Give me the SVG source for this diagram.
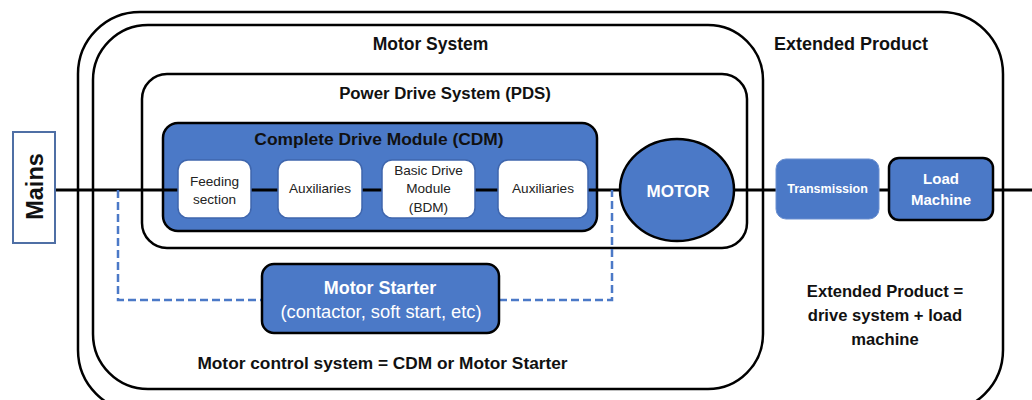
<svg xmlns="http://www.w3.org/2000/svg" width="1032" height="400" viewBox="0 0 1032 400">
<style>
.frame{fill:none;stroke:#000;stroke-width:2.5}
.t{font-family:"Liberation Sans",Arial,sans-serif;font-weight:bold;fill:#111;text-anchor:middle}
.w{font-family:"Liberation Sans",Arial,sans-serif;fill:#222;text-anchor:middle;font-size:13.6px}
.wt{font-family:"Liberation Sans",Arial,sans-serif;fill:#fff;text-anchor:middle}
.blue{fill:#4b79c7}
.inner{fill:#fff;stroke:#3f66ad;stroke-width:1.5}
</style>
<rect width="1032" height="400" fill="#fff"/>
<g id="extended-product">
<rect class="frame" x="78" y="12" width="925" height="400" rx="62"/>
<text class="t" x="851" y="50" font-size="18">Extended Product</text>
<text class="t" x="885" y="297" font-size="16.6">Extended Product =</text>
<text class="t" x="885" y="321" font-size="16.6">drive system + load</text>
<text class="t" x="885" y="345" font-size="16.6">machine</text>
</g>
<g id="motor-system">
<rect class="frame" x="93" y="25" width="670" height="364" rx="55"/>
<text class="t" x="430.5" y="50" font-size="17.5">Motor System</text>
<text class="t" x="382.5" y="369" font-size="17.3">Motor control system = CDM or Motor Starter</text>
</g>
<g id="pds">
<rect class="frame" x="142" y="74" width="605" height="174" rx="25"/>
<text class="t" x="445" y="99" font-size="16.8">Power Drive System (PDS)</text>
</g>
<g id="connectors">
<line x1="55" y1="190" x2="1032" y2="190" stroke="#000" stroke-width="3"/>
<polyline points="118,190 118,300 262,300" fill="none" stroke="#4b79c7" stroke-width="2.5" stroke-dasharray="8,4"/>
<polyline points="499,300 612,300 612,190" fill="none" stroke="#4b79c7" stroke-width="2.5" stroke-dasharray="8,4"/>
</g>
<g id="mains">
<rect x="13" y="132" width="42" height="111" fill="#fff" stroke="#4f6fa5" stroke-width="2"/>
<text class="t" transform="translate(43,186.5) rotate(-90)" font-size="23.5">Mains</text>
</g>
<g id="cdm">
<rect class="blue" x="163" y="123" width="434" height="108" rx="15" stroke="#000" stroke-width="2.5"/>
<text class="t" x="379" y="145" font-size="17.4">Complete Drive Module (CDM)</text>
<line x1="163" y1="190" x2="597" y2="190" stroke="#000" stroke-width="3"/>
</g>
<g id="feeding-section">
<rect class="inner" x="178" y="160" width="73" height="58" rx="10"/>
<text class="w" x="214.5" y="186">Feeding</text>
<text class="w" x="214.5" y="204">section</text>
</g>
<g id="auxiliaries-1">
<rect class="inner" x="278" y="160" width="84" height="58" rx="10"/>
<text class="w" x="320" y="193" font-size="14">Auxiliaries</text>
</g>
<g id="bdm">
<rect class="inner" x="382" y="160" width="93" height="58" rx="10"/>
<text class="w" x="428.5" y="175">Basic Drive</text>
<text class="w" x="428.5" y="193">Module</text>
<text class="w" x="428.5" y="212">(BDM)</text>
</g>
<g id="auxiliaries-2">
<rect class="inner" x="498" y="160" width="90" height="58" rx="10"/>
<text class="w" x="543" y="193" font-size="14">Auxiliaries</text>
</g>
<g id="motor">
<ellipse class="blue" cx="677" cy="190" rx="57" ry="51" stroke="#000" stroke-width="2.5"/>
<text class="wt" x="678" y="197" font-size="17" font-weight="bold">MOTOR</text>
</g>
<g id="transmission">
<rect class="blue" x="776" y="159" width="103" height="60" rx="10" stroke="#6a8fd0" stroke-width="1"/>
<text class="wt" x="827.5" y="193" font-size="12.5" font-weight="bold">Transmission</text>
</g>
<g id="load-machine">
<rect class="blue" x="889" y="158" width="104" height="62" rx="10" stroke="#000" stroke-width="2.5"/>
<text class="wt" x="941" y="184" font-size="15" font-weight="bold">Load</text>
<text class="wt" x="941" y="205" font-size="15" font-weight="bold">Machine</text>
</g>
<g id="motor-starter">
<rect class="blue" x="262" y="264" width="237" height="69" rx="12" stroke="#000" stroke-width="2.5"/>
<text class="wt" x="380" y="294" font-size="17.9" font-weight="bold">Motor Starter</text>
<text class="wt" x="381" y="318" font-size="18.3">(contactor, soft start, etc)</text>
</g>
</svg>
